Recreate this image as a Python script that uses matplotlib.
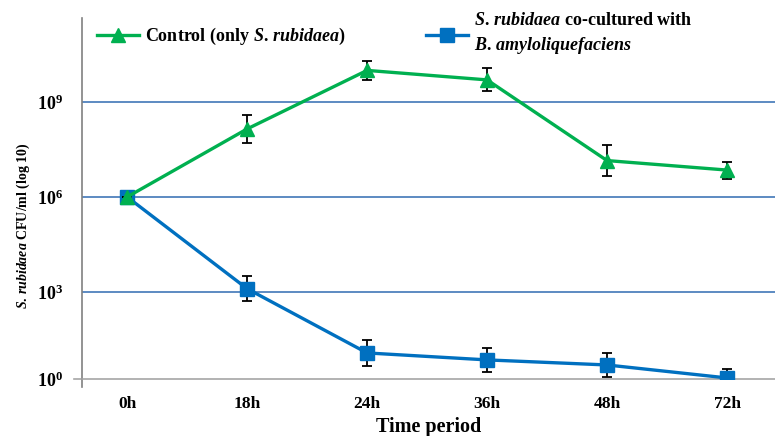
import numpy as np
import matplotlib.pyplot as plt
from matplotlib.lines import Line2D

plt.rcParams['font.family'] = ['Liberation Serif', 'DejaVu Serif']
plt.rcParams['font.weight'] = 'bold'
plt.rcParams['mathtext.fontset'] = 'custom'
plt.rcParams['mathtext.rm'] = 'Liberation Serif:bold'
plt.rcParams['mathtext.it'] = 'Liberation Serif:italic:bold'
plt.rcParams['mathtext.bf'] = 'Liberation Serif:bold'

times = ['0h', '18h', '24h', '36h', '48h', '72h']
# log10 CFU/ml
control = [6.0, 8.15, 10.0, 9.7, 7.15, 6.85]
control_err = [0.0, 0.43, 0.3, 0.36, 0.5, 0.27]
cocult = [6.0, 3.1, 1.07, 0.85, 0.69, 0.28]
cocult_err = [0.0, 0.4, 0.41, 0.38, 0.38, 0.28]

ytick_pos = [0.25, 3, 6, 9]
ytick_lab = [r'$10^{0}$', r'$10^{3}$', r'$10^{6}$', r'$10^{9}$']

green = '#00B050'
blue = '#0070C0'

fig = plt.figure(figsize=(7.75, 4.36), dpi=100)
ax = fig.add_axes([0.106, 0.131, 0.894, 0.828])

x = np.arange(len(times))
ax.errorbar(x, cocult, yerr=cocult_err, color=blue, lw=2.4, marker='s', ms=10,
            ecolor='black', elinewidth=1.3, capsize=3.5, capthick=1.3, zorder=3)
ax.errorbar(x, control, yerr=control_err, color=green, lw=2.4, marker='^', ms=10,
            ecolor='black', elinewidth=1.3, capsize=3.5, capthick=1.3, zorder=4)

for g in ytick_pos[1:]:
    ax.axhline(g, color='#4F81BD', lw=1.3, zorder=1)

ax.set_xlim(-0.375, 5.4)
ax.set_ylim(0.25, 11.66)
ax.set_xticks(x)
ax.set_xticklabels(times, fontsize=12.5, fontweight='bold')
ax.set_yticks(ytick_pos)
ax.set_yticklabels(ytick_lab, fontsize=13)
ax.tick_params(length=0, pad=14)
ax.tick_params(axis='x', pad=12)

for s in ['top', 'right']:
    ax.spines[s].set_visible(False)
ax.spines['left'].set_color('#808080')
ax.spines['bottom'].set_color('#A6A6A6')
ax.spines['left'].set_linewidth(1.2)
ax.spines['bottom'].set_linewidth(1.2)
# little tick left of the origin and spine stub below it
ax.plot([-0.44, -0.375], [0.25, 0.25], color='#A6A6A6', lw=1.2, clip_on=False)
ax.plot([-0.375, -0.375], [0.25, 0.0], color='#808080', lw=1.2, clip_on=False)

ax.set_xlabel('Time period', fontsize=14.5, fontweight='bold', labelpad=4)
ax.set_ylabel(r'$\mathit{S.}\,\mathit{rubidaea}$ CFU/ml (log 10)', fontsize=10,
              fontweight='bold')
ax.yaxis.set_label_coords(-0.073, 0.424)

handles = [Line2D([], [], color=green, lw=2.4, marker='^', ms=10),
           Line2D([], [], color=blue, lw=2.4, marker='s', ms=10)]
labels = [r'Control (only $\mathit{S.}\,\mathit{rubidaea}$)',
          r'$\mathit{S.}\,\mathit{rubidaea}$ co-cultured with' + '\n'
          + r'$\mathit{B.}\,\mathit{amyloliquefaciens}$']
leg = ax.legend(handles, labels, ncol=2, frameon=False, loc='upper left',
                bbox_to_anchor=(0.006, 1.045), prop={'size': 13, 'weight': 'bold'},
                handlelength=2.3, columnspacing=4.45, handletextpad=0.35,
                borderaxespad=0.2)
leg.get_texts()[1].set_linespacing(1.4)

fig.savefig('out.png', dpi=100)
